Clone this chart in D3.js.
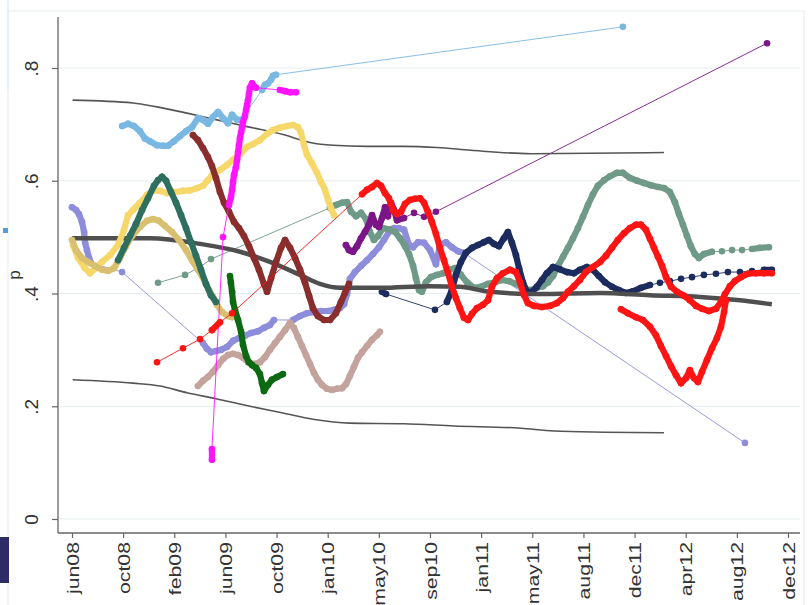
<!DOCTYPE html>
<html>
<head>
<meta charset="utf-8">
<script src="https://cdn.jsdelivr.net/npm/d3@7"></script>
<style>
  body { margin: 0; background: #fff; }
  svg { display: block; font-family: "Liberation Sans", Arial, sans-serif; }
</style>
</head>
<body>
<svg id="chart" width="808" height="605"></svg>
<script>
// ---- axis labels -------------------------------------------------------
const tickLabels = ["jun08", "oct08", "feb09", "jun09", "oct09", "jan10", "may10",
  "sep10", "jan11", "may11", "aug11", "dec11", "apr12", "aug12", "dec12"];
const yTicks = [0, 0.2, 0.4, 0.6, 0.8];
const yTitle = "p";
// first tick (26 Jun 2008) in decimal years, ticks every 116 days
const tickStart = 2008.484;
const tickStep = 116 / 365.25;

// ---- cross-sectional mean and band [year, p] ----------------------------
const meanP = [[2008.484,0.498],[2008.968,0.498],[2009.279,0.488],[2009.527,0.474],[2009.713,0.456],
  [2009.900,0.433],[2010.024,0.417],[2010.148,0.410],[2010.396,0.410],[2010.707,0.413],[2010.893,0.412],
  [2011.080,0.403],[2011.390,0.399],[2011.763,0.401],[2012.073,0.397],[2012.383,0.394],[2012.632,0.388],
  [2012.830,0.381]];
const upperBand = [[2008.488,0.743],[2008.863,0.738],[2009.012,0.731],[2009.198,0.720],[2009.384,0.708],
  [2009.571,0.696],[2009.794,0.682],[2009.962,0.668],[2010.105,0.663],[2010.316,0.661],[2010.546,0.661],
  [2010.750,0.659],[2010.962,0.654],[2011.334,0.648],[2012.160,0.650]];
const lowerBand = [[2008.488,0.247],[2008.863,0.241],[2009.030,0.236],[2009.198,0.224],[2009.384,0.213],
  [2009.589,0.200],[2009.794,0.188],[2009.980,0.177],[2010.210,0.170],[2010.546,0.169],[2010.856,0.165],
  [2011.272,0.161],[2011.477,0.156],[2011.788,0.154],[2012.160,0.153]];

// ---- individual series [year, p] ----------------------------------------
const lavender = [[2008.484,0.553],[2008.509,0.548],[2008.527,0.541],[2008.546,0.527],[2008.559,0.509],
  [2008.565,0.491],[2008.577,0.477],[2008.590,0.463],[2008.602,0.454],[2008.795,0.438],[2009.297,0.312],
  [2009.322,0.302],[2009.347,0.296],[2009.378,0.298],[2009.409,0.300],[2009.446,0.305],[2009.484,0.316],
  [2009.521,0.321],[2009.558,0.325],[2009.596,0.330],[2009.639,0.333],[2009.676,0.339],[2009.713,0.344],
  [2009.738,0.353],[2009.856,0.353],[2009.900,0.360],[2009.943,0.365],[2009.987,0.367],[2010.030,0.369],
  [2010.074,0.369],[2010.111,0.371],[2010.148,0.374],[2010.173,0.381],[2010.192,0.399],[2010.210,0.426],
  [2010.241,0.438],[2010.279,0.449],[2010.316,0.459],[2010.353,0.470],[2010.390,0.482],[2010.421,0.495],
  [2010.452,0.509],[2010.484,0.516],[2010.514,0.516],[2010.546,0.513],[2010.577,0.486],[2010.602,0.482],
  [2010.633,0.491],[2010.670,0.490],[2010.707,0.477],[2010.744,0.452],[2010.769,0.486],[2010.806,0.491],
  [2010.843,0.482],[2010.881,0.475],[2010.918,0.472],[2012.663,0.135]];
const sage = [[2009.018,0.419],[2009.186,0.433],[2009.279,0.447],[2009.347,0.461],[2010.086,0.552],
  [2010.123,0.557],[2010.161,0.561],[2010.192,0.562],[2010.217,0.545],[2010.248,0.537],[2010.279,0.543],
  [2010.310,0.532],[2010.334,0.509],[2010.359,0.495],[2010.384,0.502],[2010.415,0.516],[2010.452,0.514],
  [2010.490,0.509],[2010.521,0.498],[2010.552,0.484],[2010.577,0.470],[2010.602,0.449],[2010.620,0.427],
  [2010.639,0.406],[2010.657,0.403],[2010.682,0.420],[2010.713,0.429],[2010.750,0.433],[2010.788,0.436],
  [2010.825,0.442],[2010.862,0.445],[2010.899,0.433],[2010.937,0.420],[2010.980,0.410],[2011.024,0.412],
  [2011.067,0.417],[2011.111,0.420],[2011.154,0.424],[2011.198,0.422],[2011.241,0.417],[2011.284,0.410],
  [2011.328,0.406],[2011.371,0.410],[2011.409,0.413],[2011.440,0.420],[2011.471,0.431],[2011.502,0.449],
  [2011.533,0.465],[2011.564,0.481],[2011.595,0.498],[2011.626,0.516],[2011.657,0.536],[2011.688,0.557],
  [2011.719,0.576],[2011.750,0.591],[2011.788,0.601],[2011.825,0.608],[2011.868,0.614],[2011.905,0.614],
  [2011.949,0.605],[2011.993,0.600],[2012.036,0.596],[2012.079,0.592],[2012.123,0.589],[2012.160,0.587],
  [2012.197,0.580],[2012.228,0.562],[2012.253,0.541],[2012.278,0.522],[2012.303,0.502],[2012.327,0.484],
  [2012.352,0.470],[2012.377,0.463],[2012.408,0.470],[2012.458,0.474],[2012.520,0.475],[2012.583,0.477],
  [2012.645,0.477],[2012.707,0.479],[2012.756,0.481],[2012.812,0.482]];
const navy = [[2010.409,0.403],[2010.434,0.399],[2010.738,0.371],[2010.812,0.385],[2010.843,0.406],
  [2010.868,0.433],[2010.899,0.456],[2010.930,0.472],[2010.968,0.481],[2011.005,0.486],[2011.042,0.491],
  [2011.073,0.495],[2011.104,0.488],[2011.135,0.484],[2011.166,0.498],[2011.191,0.509],[2011.216,0.490],
  [2011.241,0.468],[2011.260,0.445],[2011.284,0.420],[2011.309,0.403],[2011.340,0.403],[2011.371,0.412],
  [2011.402,0.424],[2011.433,0.436],[2011.471,0.447],[2011.514,0.443],[2011.558,0.438],[2011.601,0.436],
  [2011.638,0.442],[2011.682,0.447],[2011.719,0.442],[2011.756,0.431],[2011.794,0.420],[2011.837,0.412],
  [2011.880,0.406],[2011.924,0.401],[2011.967,0.404],[2012.017,0.410],[2012.073,0.415],[2012.135,0.419],
  [2012.197,0.422],[2012.266,0.426],[2012.334,0.429],[2012.408,0.433],[2012.483,0.435],[2012.557,0.438],
  [2012.632,0.438],[2012.707,0.440],[2012.781,0.442],[2012.830,0.442]];
const purple = [[2010.185,0.486],[2010.204,0.477],[2010.229,0.474],[2010.254,0.484],[2010.279,0.498],
  [2010.303,0.509],[2010.328,0.522],[2010.347,0.539],[2010.371,0.522],[2010.390,0.518],[2010.409,0.534],
  [2010.428,0.553],[2010.446,0.537],[2010.465,0.561],[2010.484,0.548],[2010.502,0.530],[2010.546,0.534],
  [2010.608,0.543],[2010.670,0.536],[2010.744,0.545],[2012.800,0.844]];
const rosy = [[2009.266,0.236],[2009.297,0.245],[2009.328,0.252],[2009.359,0.261],[2009.391,0.273],
  [2009.422,0.284],[2009.453,0.291],[2009.484,0.293],[2009.515,0.291],[2009.546,0.286],[2009.577,0.278],
  [2009.614,0.275],[2009.651,0.278],[2009.682,0.287],[2009.713,0.300],[2009.745,0.312],[2009.775,0.323],
  [2009.807,0.335],[2009.838,0.348],[2009.862,0.339],[2009.887,0.323],[2009.912,0.307],[2009.937,0.291],
  [2009.962,0.275],[2009.987,0.259],[2010.011,0.247],[2010.036,0.238],[2010.067,0.231],[2010.098,0.229],
  [2010.129,0.231],[2010.161,0.232],[2010.185,0.239],[2010.210,0.254],[2010.235,0.270],[2010.260,0.286],
  [2010.285,0.296],[2010.316,0.307],[2010.347,0.318],[2010.378,0.326],[2010.396,0.332]];
const skyBlue = [[2008.795,0.697],[2008.832,0.701],[2008.869,0.697],[2008.906,0.688],[2008.937,0.675],
  [2008.968,0.670],[2009.012,0.663],[2009.049,0.662],[2009.080,0.662],[2009.117,0.670],[2009.155,0.679],
  [2009.192,0.688],[2009.229,0.695],[2009.266,0.711],[2009.297,0.708],[2009.328,0.701],[2009.359,0.713],
  [2009.391,0.722],[2009.422,0.711],[2009.453,0.702],[2009.478,0.717],[2009.509,0.708],[2009.534,0.708],
  [2009.664,0.761],[2009.682,0.770],[2009.701,0.773],[2009.720,0.779],[2009.732,0.786],[2009.751,0.788],
  [2011.905,0.873]];
const yellow = [[2008.490,0.486],[2008.521,0.463],[2008.565,0.445],[2008.596,0.436],[2008.633,0.445],
  [2008.670,0.456],[2008.720,0.468],[2008.770,0.486],[2008.807,0.513],[2008.832,0.539],[2008.863,0.548],
  [2008.906,0.561],[2008.950,0.575],[2008.987,0.583],[2009.030,0.582],[2009.074,0.578],[2009.124,0.580],
  [2009.173,0.582],[2009.217,0.583],[2009.260,0.587],[2009.297,0.591],[2009.328,0.601],[2009.359,0.612],
  [2009.403,0.619],[2009.446,0.628],[2009.484,0.637],[2009.527,0.647],[2009.571,0.660],[2009.608,0.665],
  [2009.651,0.672],[2009.695,0.683],[2009.732,0.690],[2009.775,0.694],[2009.819,0.697],[2009.856,0.699],
  [2009.887,0.695],[2009.906,0.685],[2009.925,0.663],[2009.943,0.646],[2009.974,0.631],[2010.005,0.614],
  [2010.030,0.598],[2010.055,0.584],[2010.074,0.566],[2010.092,0.552],[2010.111,0.539]];
const khaki = [[2008.484,0.495],[2008.509,0.477],[2008.546,0.463],[2008.583,0.456],[2008.627,0.449],
  [2008.670,0.442],[2008.708,0.440],[2008.745,0.445],[2008.782,0.463],[2008.819,0.484],[2008.857,0.502],
  [2008.906,0.518],[2008.950,0.529],[2008.987,0.532],[2009.024,0.529],[2009.061,0.520],[2009.105,0.509],
  [2009.148,0.495],[2009.192,0.477],[2009.229,0.459],[2009.266,0.442],[2009.304,0.424],[2009.335,0.406],
  [2009.360,0.394],[2009.384,0.380],[2009.415,0.367],[2009.453,0.360],[2009.478,0.358]];
const teal = [[2008.770,0.459],[2008.807,0.481],[2008.844,0.502],[2008.881,0.523],[2008.919,0.548],
  [2008.956,0.569],[2008.993,0.591],[2009.018,0.601],[2009.043,0.607],[2009.068,0.600],[2009.099,0.580],
  [2009.130,0.561],[2009.161,0.539],[2009.192,0.516],[2009.223,0.491],[2009.254,0.467],[2009.285,0.442],
  [2009.316,0.417],[2009.347,0.397],[2009.378,0.385]];
const maroon = [[2009.235,0.681],[2009.266,0.672],[2009.297,0.658],[2009.328,0.642],[2009.353,0.626],
  [2009.378,0.605],[2009.403,0.580],[2009.428,0.561],[2009.459,0.545],[2009.490,0.527],[2009.521,0.516],
  [2009.552,0.502],[2009.583,0.484],[2009.614,0.463],[2009.645,0.442],[2009.676,0.417],[2009.695,0.403],
  [2009.720,0.427],[2009.751,0.456],[2009.782,0.481],[2009.807,0.495],[2009.838,0.481],[2009.869,0.463],
  [2009.900,0.442],[2009.931,0.419],[2009.956,0.396],[2009.980,0.374],[2010.011,0.360],[2010.049,0.353],
  [2010.086,0.353],[2010.123,0.365],[2010.154,0.385],[2010.179,0.401],[2010.204,0.417]];
const magenta = [[2009.353,0.105],[2009.353,0.124],[2009.422,0.500],[2009.459,0.557],[2009.471,0.571],
  [2009.478,0.584],[2009.484,0.598],[2009.490,0.610],[2009.502,0.624],[2009.509,0.637],[2009.515,0.651],
  [2009.521,0.663],[2009.527,0.676],[2009.534,0.686],[2009.540,0.695],[2009.546,0.704],[2009.558,0.715],
  [2009.565,0.726],[2009.571,0.734],[2009.577,0.743],[2009.583,0.754],[2009.589,0.765],[2009.602,0.773],
  [2009.627,0.765],[2009.775,0.761],[2009.807,0.759],[2009.838,0.757],[2009.875,0.757]];
const darkGreen = [[2009.465,0.431],[2009.471,0.419],[2009.478,0.403],[2009.484,0.385],[2009.496,0.371],
  [2009.515,0.353],[2009.534,0.332],[2009.546,0.309],[2009.565,0.289],[2009.583,0.278],[2009.602,0.273],
  [2009.627,0.268],[2009.651,0.257],[2009.664,0.241],[2009.676,0.227],[2009.701,0.238],[2009.726,0.247],
  [2009.757,0.252],[2009.794,0.257]];
const red = [[2009.012,0.278],[2009.173,0.303],[2009.279,0.319],[2009.353,0.335],[2009.403,0.349],
  [2009.478,0.365],[2010.285,0.576],[2010.316,0.584],[2010.347,0.589],[2010.378,0.596],[2010.403,0.591],
  [2010.428,0.578],[2010.452,0.569],[2010.477,0.548],[2010.502,0.541],[2010.527,0.545],[2010.552,0.559],
  [2010.583,0.566],[2010.614,0.568],[2010.645,0.569],[2010.670,0.561],[2010.694,0.545],[2010.719,0.527],
  [2010.744,0.506],[2010.769,0.481],[2010.794,0.459],[2010.819,0.436],[2010.843,0.413],[2010.868,0.392],
  [2010.893,0.374],[2010.918,0.357],[2010.943,0.353],[2010.968,0.364],[2010.999,0.374],[2011.036,0.380],
  [2011.067,0.388],[2011.092,0.412],[2011.123,0.427],[2011.160,0.436],[2011.204,0.442],[2011.241,0.438],
  [2011.266,0.420],[2011.291,0.397],[2011.315,0.383],[2011.353,0.378],[2011.402,0.376],[2011.452,0.378],
  [2011.495,0.383],[2011.533,0.392],[2011.564,0.403],[2011.601,0.413],[2011.638,0.424],[2011.675,0.438],
  [2011.719,0.447],[2011.763,0.456],[2011.800,0.467],[2011.837,0.481],[2011.874,0.495],[2011.912,0.507],
  [2011.949,0.516],[2011.986,0.522],[2012.017,0.522],[2012.048,0.513],[2012.073,0.497],[2012.098,0.481],
  [2012.123,0.465],[2012.148,0.449],[2012.173,0.429],[2012.204,0.412],[2012.241,0.403],[2012.285,0.396],
  [2012.321,0.388],[2012.359,0.378],[2012.396,0.373],[2012.439,0.369],[2012.483,0.373],[2012.514,0.385],
  [2012.539,0.399],[2012.570,0.413],[2012.601,0.422],[2012.638,0.429],[2012.681,0.435],[2012.731,0.436],
  [2012.781,0.436],[2012.830,0.436]];
const redLate = [[2011.893,0.372],[2011.936,0.365],[2011.986,0.358],[2012.029,0.353],[2012.073,0.341],
  [2012.110,0.326],[2012.141,0.307],[2012.173,0.289],[2012.204,0.271],[2012.235,0.255],[2012.266,0.241],
  [2012.297,0.250],[2012.321,0.264],[2012.346,0.250],[2012.371,0.243],[2012.396,0.261],[2012.427,0.282],
  [2012.458,0.303],[2012.489,0.321],[2012.514,0.341],[2012.533,0.367],[2012.545,0.388]];

// drawing order and colour of each series
const below = [
  { values: lavender, color: "#8d8ddb" },
  { values: sage, color: "#6f9a88" },
  { values: navy, color: "#1d2c5e" },
  { values: purple, color: "#7b1588" },
  { values: rosy, color: "#c4a39d" }
];
const above = [
  { values: skyBlue, color: "#79b8e2" },
  { values: yellow, color: "#f6d86a" },
  { values: khaki, color: "#d8c070" },
  { values: teal, color: "#2e6f60" },
  { values: maroon, color: "#8a2d2d" },
  { values: darkGreen, color: "#0d6a12" },
  { values: magenta, color: "#ff14ff" },
  { values: red, color: "#ff1414" },
  { values: redLate, color: "#ff1414" }
];

// ---- scales --------------------------------------------------------------
const tickValues = tickLabels.map((_, i) => tickStart + i * tickStep);
const x = d3.scaleLinear().domain([tickStart, tickValues[tickValues.length - 1]]).range([72, 788]);
const y = d3.scaleLinear().domain([0, 0.8]).range([519, 68]);

const svg = d3.select("#chart");

// page frame
svg.append("rect").attr("x", 8).attr("y", 11).attr("width", 796).attr("height", 600)
  .attr("fill", "none").attr("stroke", "#eef2f4").attr("stroke-width", 1.5);
svg.append("line").attr("x1", 8).attr("x2", 8).attr("y1", 0).attr("y2", 90)
  .attr("stroke", "#e2eef6").attr("stroke-width", 1.5);
svg.append("rect").attr("x", 0).attr("y", 537).attr("width", 9).attr("height", 46).attr("fill", "#2e2b66");
svg.append("rect").attr("x", 3).attr("y", 228).attr("width", 5).attr("height", 5).attr("fill", "#5b9bd5");

// horizontal grid
svg.append("g").selectAll("line").data(yTicks).join("line")
  .attr("x1", 58).attr("x2", 800).attr("y1", d => y(d)).attr("y2", d => y(d))
  .attr("stroke", "#e6edf0").attr("stroke-width", 1.2);

// ---- axes --------------------------------------------------------------------
const axisColor = "#666";
const labelColor = "#333";

const yAxis = svg.append("g").attr("transform", "translate(58,0)")
  .call(d3.axisLeft(y).tickValues(yTicks).tickSize(6)
    .tickFormat(d => d === 0 ? "0" : d3.format(".1f")(d).replace(/^0/, "")));
yAxis.select(".domain").remove();
yAxis.selectAll(".tick line").attr("stroke", axisColor).attr("stroke-width", 1.2);
yAxis.selectAll(".tick text")
  .attr("x", 0).attr("y", -20).attr("dy", 0)
  .attr("transform", "rotate(-90)").attr("text-anchor", "middle")
  .attr("fill", labelColor).style("font-size", "19px").style("font-family", "'Liberation Sans', Arial, sans-serif");

const xAxis = svg.append("g").attr("transform", "translate(0,533)")
  .call(d3.axisBottom(x).tickValues(tickValues).tickSize(5).tickFormat((d, i) => tickLabels[i]));
xAxis.select(".domain").remove();
xAxis.selectAll(".tick line").attr("stroke", axisColor).attr("stroke-width", 1.2);
xAxis.selectAll(".tick text")
  .attr("x", 0).attr("y", 0).attr("dy", 0)
  .attr("transform", "translate(0,9) scale(1,1.25) rotate(-90) translate(0,6)")
  .attr("text-anchor", "end")
  .attr("fill", labelColor).style("font-size", "17px").style("font-family", "'Liberation Sans', Arial, sans-serif");

svg.append("line").attr("x1", 58).attr("x2", 58).attr("y1", 17).attr("y2", 533)
  .attr("stroke", axisColor).attr("stroke-width", 1.3);
svg.append("line").attr("x1", 58).attr("x2", 800).attr("y1", 533).attr("y2", 533)
  .attr("stroke", axisColor).attr("stroke-width", 1.3);

svg.append("text").attr("transform", "translate(20,275) rotate(-90)")
  .attr("text-anchor", "middle").attr("fill", labelColor)
  .style("font-size", "17px").text(yTitle);

// ---- marks -------------------------------------------------------------------
const plot = svg.append("g");
const line = d3.line().x(d => x(d[0])).y(d => y(d[1]));
const smooth = d3.line().x(d => x(d[0])).y(d => y(d[1])).curve(d3.curveMonotoneX);

function drawSeries(pts, color) {
  const g = plot.append("g");
  // thin line joining consecutive observations
  g.append("path").datum(pts).attr("d", line)
    .attr("fill", "none").attr("stroke", color).attr("stroke-width", 0.9);
  // runs of closely spaced observations read as a solid band of markers
  const dense = [];
  for (let i = 1; i < pts.length; i++) {
    const a = pts[i - 1], b = pts[i];
    if (b[0] - a[0] < 0.06 && Math.hypot(x(b[0]) - x(a[0]), y(b[1]) - y(a[1])) < 26) dense.push([a, b]);
  }
  g.selectAll("line").data(dense).join("line")
    .attr("x1", d => x(d[0][0])).attr("y1", d => y(d[0][1]))
    .attr("x2", d => x(d[1][0])).attr("y2", d => y(d[1][1]))
    .attr("stroke", color).attr("stroke-width", 6.2).attr("stroke-linecap", "round");
  g.selectAll("circle").data(pts).join("circle")
    .attr("cx", d => x(d[0])).attr("cy", d => y(d[1])).attr("r", 3.3).attr("fill", color);
}

below.forEach(s => drawSeries(s.values, s.color));

plot.append("path").datum(upperBand).attr("d", smooth)
  .attr("fill", "none").attr("stroke", "#555").attr("stroke-width", 1.6);
plot.append("path").datum(lowerBand).attr("d", smooth)
  .attr("fill", "none").attr("stroke", "#555").attr("stroke-width", 1.6);
plot.append("path").datum(meanP).attr("d", smooth)
  .attr("fill", "none").attr("stroke", "#4f4f4f").attr("stroke-width", 4.5);

above.forEach(s => drawSeries(s.values, s.color));
</script>
</body>
</html>
